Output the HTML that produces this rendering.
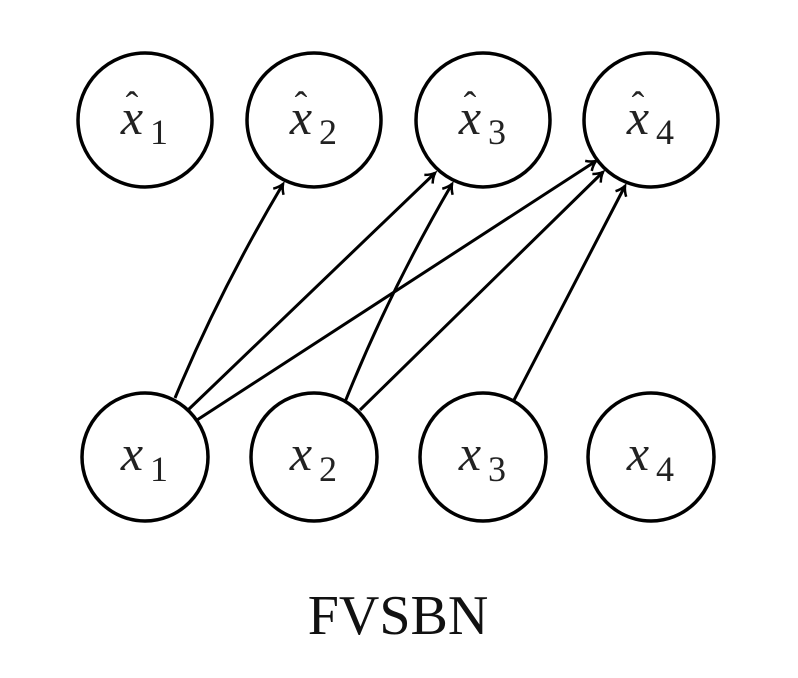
<!DOCTYPE html>
<html><head><style>
html,body{margin:0;padding:0;background:#fff;}
svg{display:block;}
</style></head><body>
<svg width="798" height="678" viewBox="0 0 798 678" xmlns="http://www.w3.org/2000/svg">
<defs>
<marker id="a" markerWidth="14" markerHeight="14" refX="11" refY="7" orient="auto" markerUnits="userSpaceOnUse">
<path d="M2,1 Q6,5 11,7 Q6,9 2,13" fill="none" stroke="#000" stroke-width="2.5"/>
</marker>
</defs>
<g fill="none" stroke="#000" stroke-width="3.5">
<ellipse cx="145" cy="120" rx="67" ry="67"/>
<ellipse cx="314" cy="120" rx="67" ry="67"/>
<ellipse cx="483" cy="120" rx="67" ry="67"/>
<ellipse cx="651" cy="120" rx="67" ry="67"/>
<ellipse cx="145" cy="457" rx="63" ry="64"/>
<ellipse cx="314" cy="457" rx="63" ry="64"/>
<ellipse cx="483" cy="457" rx="63" ry="64"/>
<ellipse cx="651" cy="457" rx="63" ry="64"/>
</g>
<g fill="none" stroke="#000" stroke-width="3" marker-end="url(#a)">
<path d="M175,398 Q220,290 283,184"/>
<path d="M188,410 L435,173"/>
<path d="M197,420 L596,161"/>
<path d="M345,402 Q390,290 452,184"/>
<path d="M360,410 L603,172"/>
<path d="M513,402 L625,186"/>
</g>
<g font-family="Liberation Serif, serif" font-style="italic" font-size="50" text-anchor="middle" fill="#222">
<text x="132" y="134">x</text><text x="132" y="118" font-style="normal" font-size="38">ˆ</text><text x="159" y="144" font-style="normal" font-size="36">1</text>
<text x="301" y="134">x</text><text x="301" y="118" font-style="normal" font-size="38">ˆ</text><text x="328" y="144" font-style="normal" font-size="36">2</text>
<text x="470" y="134">x</text><text x="470" y="118" font-style="normal" font-size="38">ˆ</text><text x="497" y="144" font-style="normal" font-size="36">3</text>
<text x="638" y="134">x</text><text x="638" y="118" font-style="normal" font-size="38">ˆ</text><text x="665" y="144" font-style="normal" font-size="36">4</text>
<text x="132" y="470">x</text><text x="159" y="481" font-style="normal" font-size="36">1</text>
<text x="301" y="470">x</text><text x="328" y="481" font-style="normal" font-size="36">2</text>
<text x="470" y="470">x</text><text x="497" y="481" font-style="normal" font-size="36">3</text>
<text x="638" y="470">x</text><text x="665" y="481" font-style="normal" font-size="36">4</text>
</g>
<text x="398" y="634" font-family="Liberation Serif, serif" font-size="56" text-anchor="middle" fill="#111">FVSBN</text>
</svg>
</body></html>
